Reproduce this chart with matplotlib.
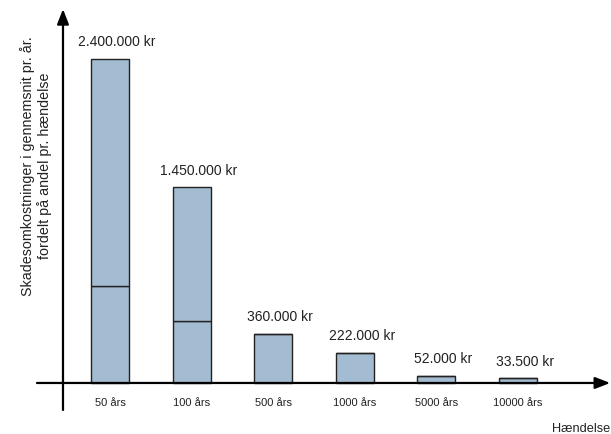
import numpy as np
import matplotlib.pyplot as plt

plt.rcParams['font.family'] = ['Liberation Sans', 'DejaVu Sans']

# data (mio. kr)
categories = ['50 års', '100 års', '500 års', '1000 års', '5000 års', '10000 års']
lower = [0.72, 0.46, 0.363, 0.222, 0.052, 0.0335]
upper = [1.68, 0.99, 0.0, 0.0, 0.0, 0.0]
labels = ['2.400.000 kr', '1.450.000 kr', '360.000 kr', '222.000 kr', '52.000 kr', '33.500 kr']

fill = '#a3bcd2'
edge = '#222222'

fig = plt.figure(figsize=(6.11, 4.34), dpi=100)
ax = fig.add_axes([0, 0, 1, 1])
ax.set_xlim(-1.348, 6.140)
ax.set_ylim(-0.378, 2.837)
ax.axis('off')

x = np.arange(len(categories))
lower = np.array(lower)
upper = np.array(upper)
ax.bar(x, lower, width=0.466, color=fill, edgecolor=edge, linewidth=1.0, zorder=2)
ax.bar(x, upper, bottom=lower, width=0.466, color=fill, edgecolor=edge,
       linewidth=1.0, zorder=2)

total = lower + upper
for xi, t, lab in zip(x, total, labels):
    ax.annotate(lab, (xi, t), xytext=(5, 7), textcoords='offset points',
                ha='center', va='bottom', fontsize=10, color='#222222')

for xi, c in zip(x, categories):
    ax.text(xi, -0.15, c, ha='center', va='center', fontsize=8, color='#222222')

# axes with arrows
arrow = dict(arrowstyle='-|>,head_length=0.9,head_width=0.35', color='black',
             lw=1.6, shrinkA=0, shrinkB=0)
ax.annotate('', xy=(-0.576, 2.77), xytext=(-0.576, -0.2), arrowprops=arrow, zorder=3)
ax.annotate('', xy=(6.13, 0), xytext=(-0.895, 0), arrowprops=arrow, zorder=3)

ax.text(-0.907, 1.607, 'Skadesomkostninger i gennemsnit pr. år.\nfordelt på andel pr. hændelse',
        rotation=90, ha='center', va='center', fontsize=10.3, color='#222222',
        linespacing=1.15)
ax.text(6.125, -0.34, 'Hændelse', ha='right', va='center', fontsize=9.2, color='#222222')

fig.savefig('out.png', dpi=100)
